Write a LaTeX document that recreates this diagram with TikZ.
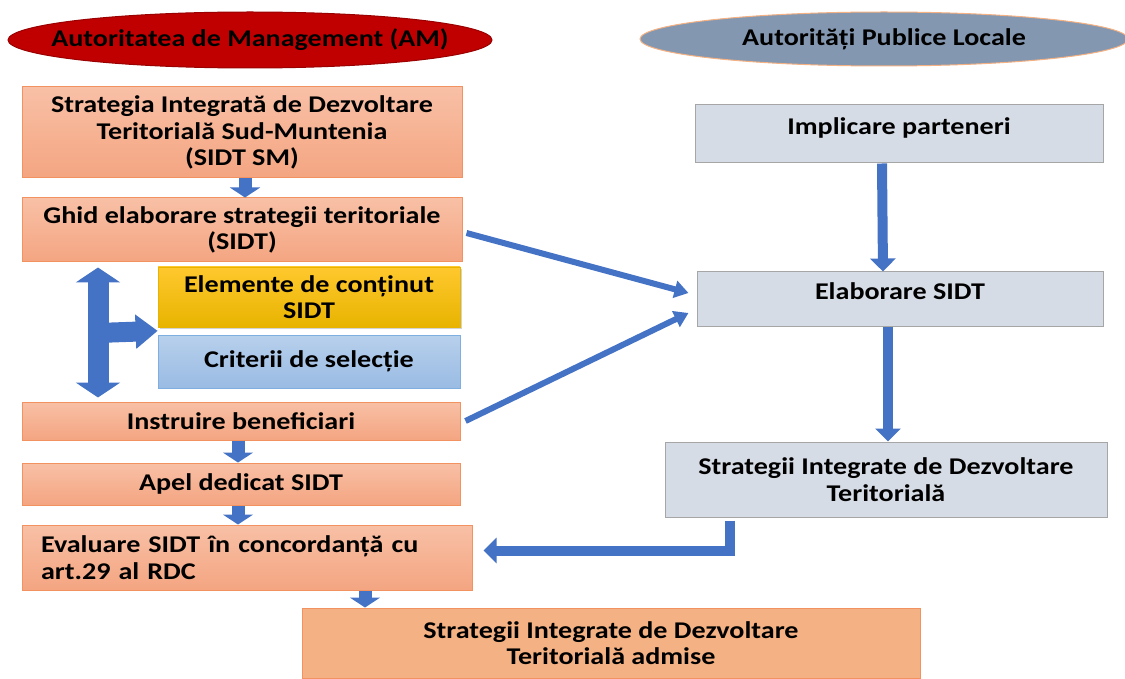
\documentclass[tikz,border=0pt]{standalone}
\usepackage{fontspec}
\setmainfont{Carlito}[FakeStretch=1.17]
\usetikzlibrary{arrows.meta,calc,shadows,shapes.geometric}

\definecolor{amred}{HTML}{C00000}
\definecolor{aplgray}{HTML}{8497B0}
\definecolor{aplline}{HTML}{F4B183}
\definecolor{boxtop}{HTML}{F8C0A6}
\definecolor{boxbot}{HTML}{F4A581}
\definecolor{boxline}{HTML}{F29260}
\definecolor{admfill}{HTML}{F4B183}
\definecolor{grayfill}{HTML}{D6DCE5}
\definecolor{grayline}{HTML}{A6A6A6}
\definecolor{yeltop}{HTML}{FFC82E}
\definecolor{yelbot}{HTML}{E8B400}
\definecolor{bluetop}{HTML}{B7D0EC}
\definecolor{bluebot}{HTML}{9ABBE3}
\definecolor{blueline}{HTML}{7FAEE0}
\definecolor{arrowblue}{HTML}{4472C4}

\begin{document}
\begin{tikzpicture}[x=1pt, y=-1pt,
    font=\fontsize{24}{26.5}\selectfont\bfseries,
    every node/.style={inner sep=0pt, align=center},
    oval/.style={ellipse, line width=1pt, inner xsep=-40pt},
    box/.style={draw=boxline, top color=boxtop, bottom color=boxbot, line width=1pt},
    graybox/.style={draw=grayline, fill=grayfill, line width=1pt},
    dn/.style={draw=arrowblue, line width=13pt, -{Triangle[width=30pt, length=10pt]}},
    fat/.style={draw=arrowblue, line width=10pt, -{Triangle[width=25pt, length=13pt]}},
    thin/.style={draw=arrowblue, line width=6pt, -{Triangle[width=17pt, length=14pt]}}]
    \useasboundingbox (0, 0) rectangle (1125, 679);

    % headers
    \node[oval, draw=amred!80!black, fill=amred, minimum width=484pt, minimum height=56pt]
        (am) at (250, 40) {Autoritatea de Management (AM)};
    \node[oval, draw=aplline, fill=aplgray, minimum width=488pt, minimum height=54pt]
        (apl) at (884, 39) {Autorități Publice Locale};

    % AM column
    \node[box, minimum width=440pt, minimum height=91pt] (sidtsm) at (242, 132.5)
        {Strategia Integrată de Dezvoltare\\Teritorială Sud-Muntenia\\(SIDT SM)};
    \node[box, minimum width=440pt, minimum height=64pt] (ghid) at (242, 230)
        {Ghid elaborare strategii teritoriale\\(SIDT)};
    \node[draw=yelbot, top color=yeltop, bottom color=yelbot,
        drop shadow={shadow xshift=2pt, shadow yshift=-2pt, opacity=.35},
        minimum width=302pt, minimum height=60pt] (elem) at (309, 297)
        {Elemente de conținut\\SIDT};
    \node[draw=blueline, top color=bluetop, bottom color=bluebot, line width=1pt,
        minimum width=302pt, minimum height=53pt] (crit) at (309, 361.5)
        {Criterii de selecție};
    \node[box, minimum width=438pt, minimum height=38pt] (instr) at (241, 421)
        {Instruire beneficiari};
    \node[box, minimum width=438pt, minimum height=42pt] (apel) at (241, 484)
        {Apel dedicat SIDT};
    \node[box, minimum width=450pt, minimum height=65pt, text width=412pt, align=left]
        (eval) at (247, 557.5) {Evaluare SIDT în concordanță cu\\art.29 al RDC};
    \node[draw=boxline, fill=admfill, line width=1pt, minimum width=618pt,
        minimum height=70pt] (admise) at (611, 643)
        {Strategii Integrate de Dezvoltare\\Teritorială admise};

    % APL column
    \node[graybox, minimum width=408pt, minimum height=58pt, text depth=16pt] (impl)
        at (899, 134) {Implicare parteneri};
    \node[graybox, minimum width=406pt, minimum height=54pt, text depth=16pt] (elab)
        at (900, 299) {Elaborare SIDT};
    \node[graybox, minimum width=442pt, minimum height=75pt] (sidt) at (886, 479.5)
        {Strategii Integrate de Dezvoltare\\Teritorială};

    % arrows
    \draw[dn] ([xshift=3pt]sidtsm.south) -- ([xshift=3pt]ghid.north);
    \draw[dn] ([xshift=-3pt]instr.south) -- ([xshift=-3pt]apel.north);
    \draw[dn] ([xshift=-3pt]apel.south) -- ([xshift=-9pt]eval.north);
    \draw[dn] ([xshift=118pt]eval.south) -- ([xshift=118pt]eval.south |- admise.north);
    \draw[fat] ([xshift=-17pt]impl.south) -- ([xshift=-17pt]elab.north);
    \draw[fat] ([xshift=-12pt]elab.south) -- ([xshift=-12pt]elab.south |- sidt.north);
    \draw[thin] ([xshift=4pt, yshift=-3pt]ghid.east) -- ([xshift=-8pt, yshift=6pt]elab.west);
    \draw[thin] ([xshift=5pt]instr.east) -- ([xshift=-8pt, yshift=-14pt]elab.west);
    \draw[fat, line join=miter] ([xshift=65pt, yshift=-3pt]sidt.south west)
        |- ([xshift=11pt, yshift=7pt]eval.east);

    % double arrow and branch
    \coordinate (top) at ([yshift=-5pt]ghid.south -| 98, 0);
    \coordinate (bot) at ([yshift=4pt]instr.north -| 98, 0);
    \draw[draw=arrowblue, line width=21pt,
        {Triangle[width=44pt, length=15pt]}-{Triangle[width=44pt, length=15pt]}] (top) -- (bot);
    \draw[draw=arrowblue, line width=20pt, -{Triangle[width=33pt, length=22pt]}]
        (98, 333) -- ($(elem.south west)!.5!(crit.north west)$);
\end{tikzpicture}
\end{document}
